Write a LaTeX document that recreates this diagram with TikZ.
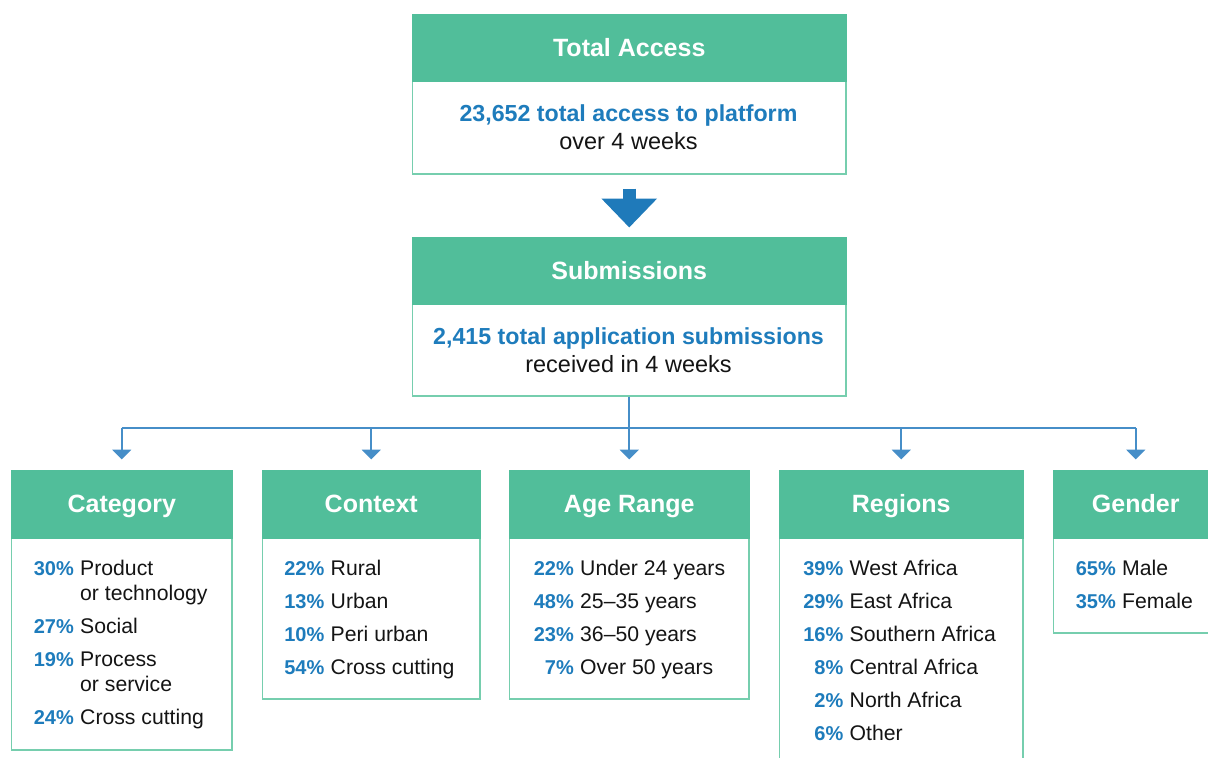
\documentclass[tikz,border=0pt]{standalone}
\usepackage{fontspec}
\setmainfont{Liberation Sans}
\usetikzlibrary{arrows.meta}

\definecolor{hdrgreen}{RGB}{81,190,154}
\definecolor{edgegreen}{RGB}{118,206,174}
\definecolor{statblue}{RGB}{30,124,188}
\definecolor{flowblue}{RGB}{31,122,186}
\definecolor{linkblue}{RGB}{70,142,200}
\definecolor{ink}{RGB}{20,20,20}

\tikzset{
  hdr/.style={fill=hdrgreen, draw=hdrgreen, line width=1.5pt, anchor=north west,
    inner sep=0pt, text=white, font=\fontsize{25}{29}\selectfont\bfseries,
    text height=17.9pt, text depth=0pt},
  bodybox/.style={fill=white, draw=edgegreen, line width=1.5pt, anchor=north west, inner sep=0pt},
  headline/.style={text=statblue, font=\fontsize{23.2}{27}\selectfont\bfseries, anchor=base, inner sep=0pt},
  subline/.style={text=ink, font=\fontsize{23.5}{27}\selectfont, anchor=base, inner sep=0pt},
  pctlbl/.style={text=statblue, font=\fontsize{20}{24}\selectfont\bfseries, inner sep=0pt, anchor=base east},
  itemlbl/.style={text=ink, font=\fontsize{21.2}{24}\selectfont, inner sep=0pt, anchor=base west},
  link/.style={draw=linkblue, line width=2pt},
  linktip/.style={link, -{Triangle[width=19pt,length=10pt]}},
  flow/.style={draw=flowblue, line width=12.6pt, -{Triangle[width=54pt,length=29pt]}}
}

% one breakdown panel: name, left x, width, body height, title
\newcommand\statbox[5]{%
  \node[bodybox, minimum width=#3pt-1.5pt, minimum height=#4pt] (#1-b) at (#2+0.75,537) {};
  \node[hdr, minimum width=#3pt-1.5pt, minimum height=67.5pt] (#1-h) at (#2+0.75,469.5) {#5};}
% one list row: name, gap x, baseline y, share, label
\newcommand\statrow[5]{%
  \node[pctlbl] (#1-p) at (#2-3,#3) {#4};
  \node[itemlbl] (#1-t) at (#2+3,#3) {#5};}
% continuation line of a wrapped label
\newcommand\statcont[4]{%
  \node[itemlbl] (#1) at (#2+3,#3) {#4};}

\begin{document}
\begin{tikzpicture}[x=1pt,y=-1pt]
\useasboundingbox (0,0) rectangle (1208,758);
\clip (0,0) rectangle (1208,758);

% total access
\node[bodybox, minimum width=433.5pt, minimum height=93pt] (tot-b) at (411.75,80) {};
\node[hdr, minimum width=433.5pt, minimum height=67pt] (tot-h) at (411.75,13.5) {Total Access};
\node[headline] (tot-l1) at (628.5,121) {23,652 total access to platform};
\node[subline] (tot-l2) at (628.5,149) {over 4 weeks};

% submissions
\node[bodybox, minimum width=433.5pt, minimum height=92pt] (sub-b) at (411.75,303) {};
\node[hdr, minimum width=433.5pt, minimum height=67pt] (sub-h) at (411.75,236.5) {Submissions};
\node[headline] (sub-l1) at (628.5,344) {2,415 total application submissions};
\node[subline] (sub-l2) at (628.5,372) {received in 4 weeks};

\draw[flow] ([yshift=-14pt]tot-b.south) -- ([yshift=9pt]sub-h.north);

% breakdown panels
\statbox{cat}{10}{222}{212}{Category}
\statbox{ctx}{261}{219}{161}{Context}
\statbox{age}{508}{241}{161}{Age Range}
\statbox{reg}{778}{245}{240}{Regions}
\statbox{gen}{1052}{166}{95}{Gender}

% connectors
\coordinate (bus) at (628.5,428);
\draw[link] (cat-h.north |- bus) -- (gen-h.north |- bus);
\draw[linktip] (sub-b.south) -- ([yshift=10pt]age-h.north);
\foreach \n in {cat,ctx,reg,gen}
  \draw[linktip] (\n-h.north |- bus) -- ([yshift=10pt]\n-h.north);

% category
\statrow{cat1}{77}{575}{30\%}{Product}
\statcont{cat1b}{77}{600}{or technology}
\statrow{cat2}{77}{633}{27\%}{Social}
\statrow{cat3}{77}{666}{19\%}{Process}
\statcont{cat3b}{77}{691}{or service}
\statrow{cat4}{77}{724}{24\%}{Cross cutting}

% context
\statrow{ctx1}{327.5}{575}{22\%}{Rural}
\statrow{ctx2}{327.5}{608}{13\%}{Urban}
\statrow{ctx3}{327.5}{641}{10\%}{Peri urban}
\statrow{ctx4}{327.5}{674}{54\%}{Cross cutting}

% age range
\statrow{age1}{577}{575}{22\%}{Under 24 years}
\statrow{age2}{577}{608}{48\%}{25–35 years}
\statrow{age3}{577}{641}{23\%}{36–50 years}
\statrow{age4}{577}{674}{7\%}{Over 50 years}

% regions
\statrow{reg1}{846.5}{575}{39\%}{West Africa}
\statrow{reg2}{846.5}{608}{29\%}{East Africa}
\statrow{reg3}{846.5}{641}{16\%}{Southern Africa}
\statrow{reg4}{846.5}{674}{8\%}{Central Africa}
\statrow{reg5}{846.5}{707}{2\%}{North Africa}
\statrow{reg6}{846.5}{740}{6\%}{Other}

% gender
\statrow{gen1}{1119}{575}{65\%}{Male}
\statrow{gen2}{1119}{608}{35\%}{Female}
\end{tikzpicture}
\end{document}
